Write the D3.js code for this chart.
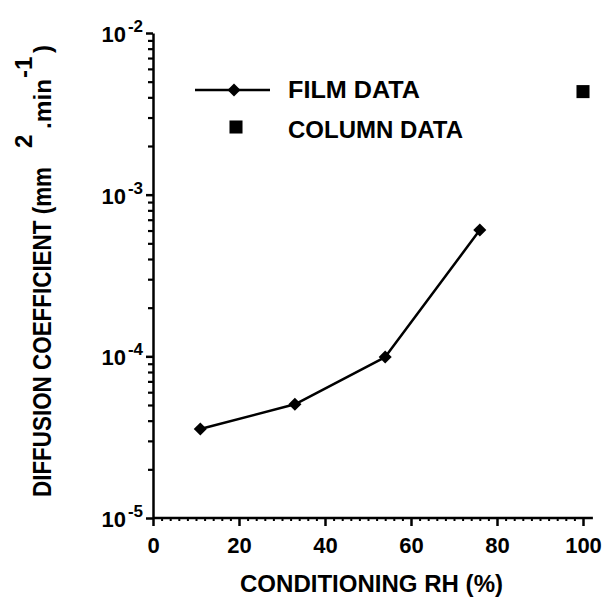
<!DOCTYPE html>
<html>
<head>
<meta charset="utf-8">
<script src="https://cdn.jsdelivr.net/npm/d3@7"></script>
<style>
  html, body { margin: 0; padding: 0; background: #fff; }
  svg { display: block; }
  text { font-family: "Liberation Sans", Arial, sans-serif; font-weight: bold; fill: #000; }
</style>
</head>
<body>
<svg id="chart" width="602" height="599"></svg>
<script>
// ---- data ----
const xTickValues = [0, 20, 40, 60, 80, 100];
const yTickExponents = [-5, -4, -3, -2];
const filmRH = [11, 33, 54, 76];
const filmD = [3.55e-5, 5.05e-5, 9.9e-5, 6.04e-4];
const columnRH = [100];
const columnD = [4.34e-3];
const legendLabels = ["FILM DATA", "COLUMN DATA"];
const xTitle = "CONDITIONING RH (%)";
const yTitleParts = ["DIFFUSION COEFFICIENT (mm", "2", ".min", "-1", ")"];

// ---- layout ----
const svg = d3.select("#chart");
const x = d3.scaleLinear().domain([0, 100]).range([153, 583]);
const y = d3.scaleLog().domain([1e-5, 1e-2]).range([518, 33]);

const ink = "#000";

// x axis minor ticks (every 2 units)
const xMinor = d3.range(0, 101, 2).filter(v => v % 20 !== 0);
svg.append("g").attr("transform", `translate(0,${y(1e-5)})`)
  .call(d3.axisBottom(x).tickValues(xMinor).tickSize(3).tickFormat(""))
  .call(g => g.select(".domain").remove())
  .call(g => g.selectAll("line").attr("stroke", ink).attr("stroke-width", 2));

// x axis major
const gx = svg.append("g").attr("transform", `translate(0,${y(1e-5)})`)
  .call(d3.axisBottom(x).tickValues(xTickValues).tickSize(8).tickSizeOuter(0).tickPadding(12).tickFormat(d3.format("d")));
gx.select(".domain").attr("stroke", ink).attr("stroke-width", 2.5)
  .attr("d", `M${x(0)},0H${x(102.3)}`);
gx.selectAll("line").attr("stroke", ink).attr("stroke-width", 2.5);
gx.selectAll("text").attr("font-size", 22).attr("dy", "0.71em").attr("y", 19)
  .style("font-family", "'Liberation Sans', Arial, sans-serif").style("font-weight", "bold");

// y axis minor ticks
const yMinor = [];
for (let e = -5; e < -2; e++) for (let m = 2; m <= 9; m++) yMinor.push(m * Math.pow(10, e));
svg.append("g").attr("transform", `translate(${x(0)},0)`)
  .call(d3.axisLeft(y).tickValues(yMinor).tickSize(5).tickFormat(""))
  .call(g => g.select(".domain").remove())
  .call(g => g.selectAll("line").attr("stroke", ink).attr("stroke-width", 2.2));

// y axis major
const yMajor = yTickExponents.map(e => Math.pow(10, e));
const gy = svg.append("g").attr("transform", `translate(${x(0)},0)`)
  .call(d3.axisLeft(y).tickValues(yMajor).tickSize(7).tickSizeOuter(0).tickFormat(""));
gy.select(".domain").attr("stroke", ink).attr("stroke-width", 2.5);
gy.selectAll("line").attr("stroke", ink).attr("stroke-width", 2.5);

// y tick labels with superscripts
const yLab = svg.append("g").selectAll("text").data(yTickExponents).join("text")
  .attr("x", x(0) - 10)
  .attr("y", d => y(Math.pow(10, d)) + 9)
  .attr("text-anchor", "end")
  .attr("font-size", 22);
yLab.append("tspan").text("10");
yLab.append("tspan").attr("font-size", 17).attr("dy", -10).attr("dx", 2).text(d => String(d));

// film data line
const filmPts = filmRH.map((v, i) => [v, filmD[i]]);
svg.append("path")
  .datum(filmPts)
  .attr("fill", "none").attr("stroke", ink).attr("stroke-width", 2.5)
  .attr("stroke-linejoin", "round")
  .attr("d", d3.line().x(d => x(d[0])).y(d => y(d[1])));

const diamond = d3.symbol().type(d3.symbolSquare).size(85)();
svg.append("g").selectAll("path").data(filmPts).join("path")
  .attr("d", diamond)
  .attr("transform", d => `translate(${x(d[0])},${y(d[1])}) rotate(45)`)
  .attr("fill", ink);

// column data
const colPts = columnRH.map((v, i) => [v, columnD[i]]);
const square = d3.symbol().type(d3.symbolSquare).size(170)();
svg.append("g").selectAll("path").data(colPts).join("path")
  .attr("d", square)
  .attr("transform", d => `translate(${x(d[0])},${y(d[1])})`)
  .attr("fill", ink);

// legend
const lg = svg.append("g");
lg.append("line").attr("x1", 195).attr("x2", 270).attr("y1", 90).attr("y2", 90)
  .attr("stroke", ink).attr("stroke-width", 2.5);
lg.append("path").attr("d", diamond).attr("transform", "translate(234,90) rotate(45)").attr("fill", ink);
lg.append("path").attr("d", square).attr("transform", "translate(236,127)").attr("fill", ink);
lg.append("text").attr("x", 288).attr("y", 98).attr("font-size", 23)
  .attr("textLength", 132).attr("lengthAdjust", "spacingAndGlyphs").text(legendLabels[0]);
lg.append("text").attr("x", 288).attr("y", 138).attr("font-size", 23)
  .attr("textLength", 175).attr("lengthAdjust", "spacingAndGlyphs").text(legendLabels[1]);

// x title
svg.append("text").attr("x", 240).attr("y", 592).attr("font-size", 24)
  .attr("textLength", 263).attr("lengthAdjust", "spacingAndGlyphs").text(xTitle);

// y title (rotated)
const yt = svg.append("g").attr("transform", "translate(51,497) rotate(-90)");
yt.append("text").attr("x", 0).attr("y", 0).attr("font-size", 25)
  .attr("textLength", 330).attr("lengthAdjust", "spacingAndGlyphs").text(yTitleParts[0]);
yt.append("text").attr("x", 349).attr("y", -19).attr("font-size", 24).text(yTitleParts[1]);
yt.append("text").attr("x", 368).attr("y", 0).attr("font-size", 24)
  .attr("textLength", 50).attr("lengthAdjust", "spacingAndGlyphs").text(yTitleParts[2]);
yt.append("text").attr("x", 419).attr("y", -19).attr("font-size", 24).text(yTitleParts[3]);
yt.append("text").attr("x", 444).attr("y", 0).attr("font-size", 24).text(yTitleParts[4]);
</script>
</body>
</html>
